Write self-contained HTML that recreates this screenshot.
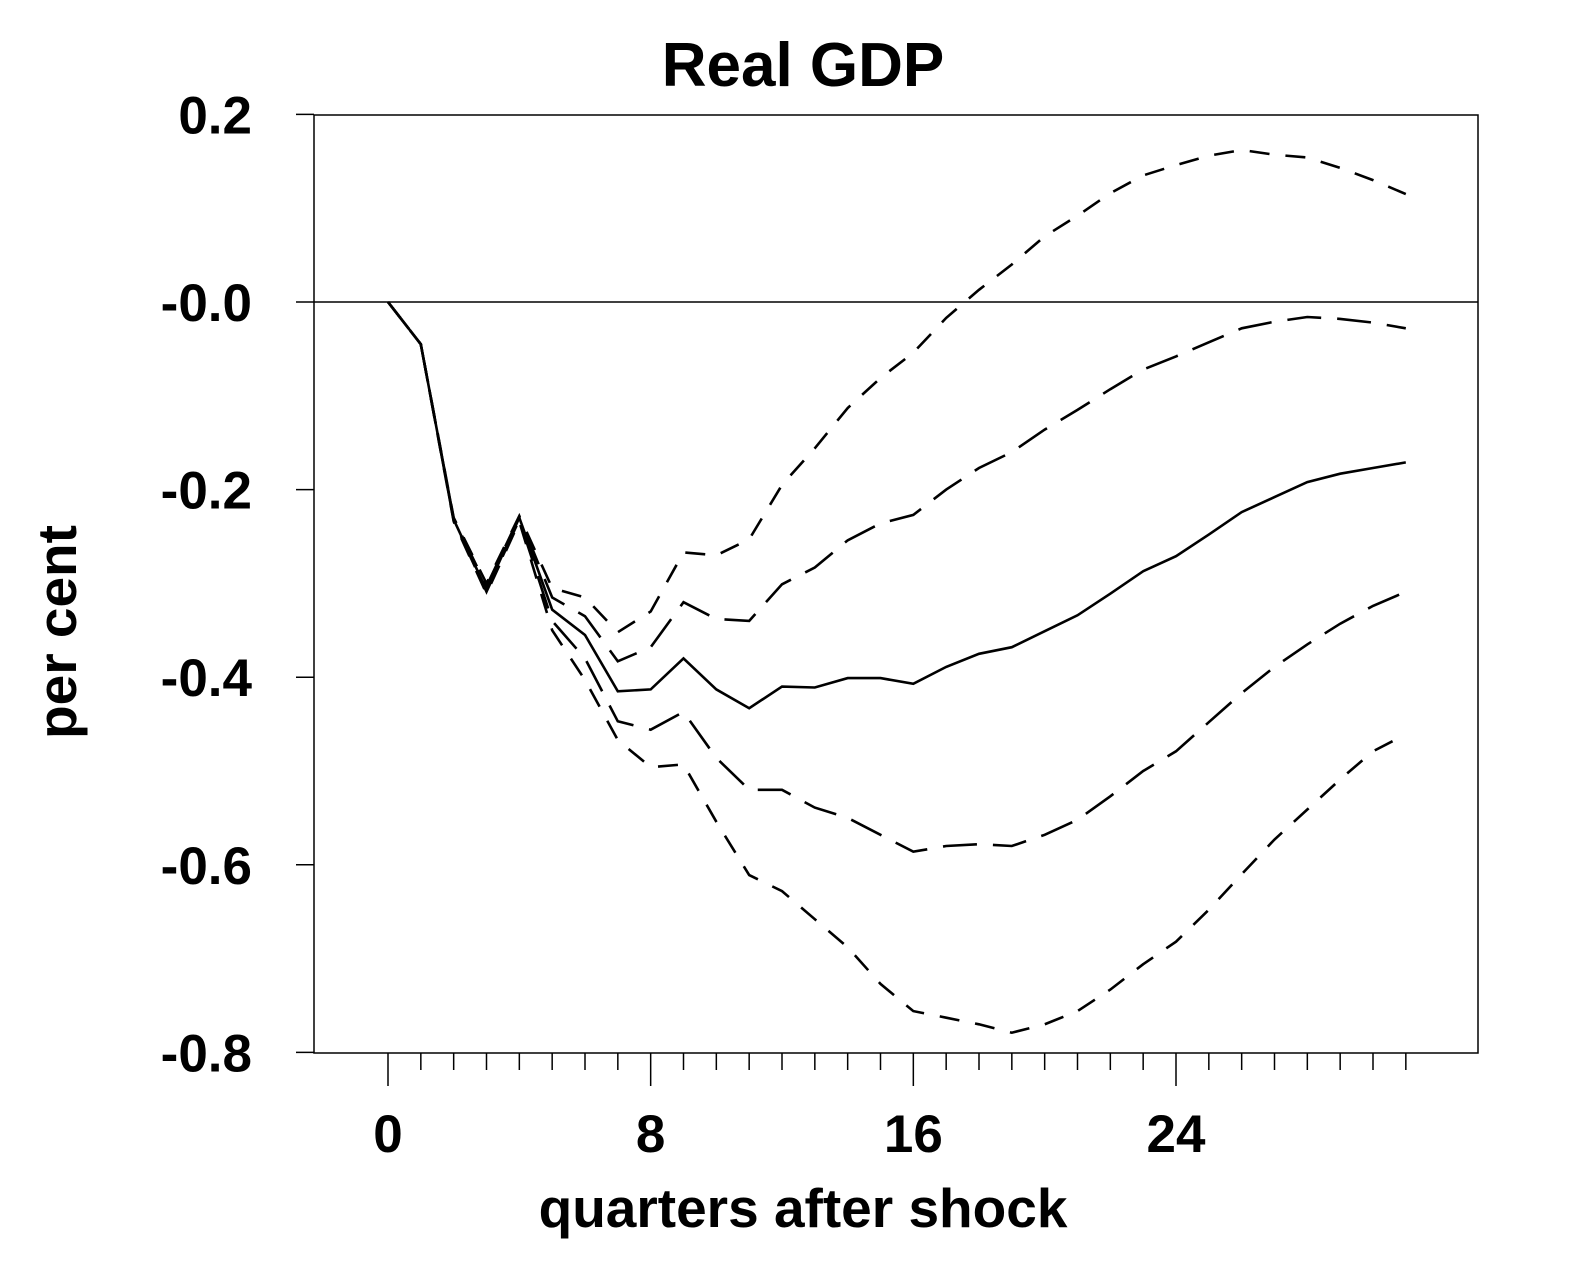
<!DOCTYPE html>
<html><head><meta charset="utf-8"><style>
body{margin:0;background:#fff;}
svg{display:block;font-family:"Liberation Sans",Arial,sans-serif;font-weight:bold;}
</style></head><body>
<svg id="chart" width="1582" height="1275" viewBox="0 0 1582 1275" xmlns="http://www.w3.org/2000/svg">
<text x="803" y="86" font-size="62" text-anchor="middle">Real GDP</text>
<rect x="314" y="115" width="1164" height="938" fill="none" stroke="#000" stroke-width="1.5"/>
<text transform="translate(76,632) rotate(-90)" font-size="55" text-anchor="middle">per cent</text>
<text x="803" y="1227" font-size="55" text-anchor="middle">quarters after shock</text>
<g id="axes"></g>
<g id="series"></g>
</svg>
<script>
const quarters=[0,1,2,3,4,5,6,7,8,9,10,11,12,13,14,15,16,17,18,19,20,21,22,23,24,25,26,27,28,29,30,31];
const median=[0,-0.045,-0.232,-0.307,-0.23,-0.328,-0.355,-0.415,-0.413,-0.38,-0.413,-0.433,-0.41,-0.411,-0.401,-0.401,-0.407,-0.389,-0.375,-0.368,-0.351,-0.334,-0.311,-0.287,-0.271,-0.248,-0.224,-0.208,-0.192,-0.183,-0.177,-0.171];
const outerUpper=[0,-0.045,-0.23,-0.3,-0.228,-0.305,-0.315,-0.352,-0.33,-0.267,-0.27,-0.253,-0.195,-0.156,-0.113,-0.081,-0.054,-0.017,0.013,0.04,0.07,0.092,0.116,0.135,0.146,0.156,0.162,0.157,0.154,0.143,0.13,0.115];
const innerUpper=[0,-0.045,-0.231,-0.303,-0.229,-0.315,-0.335,-0.383,-0.368,-0.32,-0.338,-0.34,-0.301,-0.283,-0.254,-0.236,-0.227,-0.2,-0.177,-0.16,-0.136,-0.115,-0.093,-0.072,-0.058,-0.043,-0.028,-0.021,-0.016,-0.018,-0.022,-0.028];
const innerLower=[0,-0.045,-0.233,-0.309,-0.232,-0.34,-0.38,-0.447,-0.456,-0.437,-0.486,-0.52,-0.52,-0.539,-0.55,-0.568,-0.586,-0.58,-0.578,-0.58,-0.568,-0.552,-0.527,-0.5,-0.479,-0.448,-0.417,-0.389,-0.365,-0.343,-0.324,-0.309];
const outerLower=[0,-0.045,-0.234,-0.311,-0.234,-0.35,-0.403,-0.467,-0.496,-0.493,-0.554,-0.611,-0.628,-0.658,-0.688,-0.727,-0.756,-0.763,-0.77,-0.779,-0.77,-0.756,-0.733,-0.706,-0.682,-0.648,-0.61,-0.573,-0.541,-0.509,-0.479,-0.461];
const yTicks=[0.2,0,-0.2,-0.4,-0.6,-0.8];
const yTickLabels=["0.2","-0.0","-0.2","-0.4","-0.6","-0.8"];
const xMajor=[0,8,16,24];

const NS="http://www.w3.org/2000/svg";
function X(q){return 388+q*(1176-388)/24;}
function Y(v){return 302-v*(1053-115)/1.0;}
function mk(tag,attrs,parent){const e=document.createElementNS(NS,tag);for(const k in attrs)e.setAttribute(k,attrs[k]);parent.appendChild(e);return e;}
const axes=document.getElementById('axes');
yTicks.forEach((v,i)=>{
  const t=mk('line',{x1:296,x2:314,y1:Y(v),y2:Y(v),stroke:'#000','stroke-width':1.5},axes);
  
  
  const l=mk('text',{x:252,y:Y(v)+19,'font-size':53,'text-anchor':'end'},axes);
  l.textContent=yTickLabels[i];
  
  
});
quarters.forEach(q=>{
  const major=xMajor.includes(q);
  const t=mk('line',{x1:X(q),x2:X(q),y1:1053,y2:major?1086:1070,stroke:'#000','stroke-width':1.5},axes);
  
  
});
xMajor.forEach(q=>{
  const l=mk('text',{x:X(q),y:1152,'font-size':53,'text-anchor':'middle'},axes);
  l.textContent=String(q);
  
  
});
const zl=mk('line',{x1:314,x2:1478,y1:Y(0),y2:Y(0),stroke:'#000','stroke-width':1.5},axes);


const series=document.getElementById('series');
function draw(vals,name,dash){
  const d=vals.map((v,i)=>(i?'L':'M')+X(quarters[i]).toFixed(1)+','+Y(v).toFixed(1)).join(' ');
  const p=mk('path',{d:d,fill:'none',stroke:'#000','stroke-width':2.6,'stroke-dasharray':dash},series);
  
  
}
draw(outerUpper,'outer-upper-band','20,16');
draw(outerLower,'outer-lower-band','20,16');
draw(innerUpper,'inner-upper-band','34,16');
draw(innerLower,'inner-lower-band','34,16');
draw(median,'median-response','none');
</script>
</body></html>
